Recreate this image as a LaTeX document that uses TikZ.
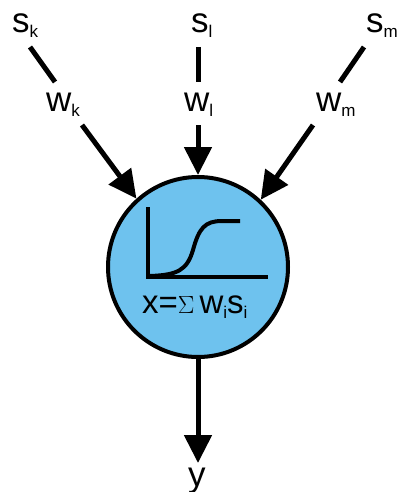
\documentclass[tikz,border=0pt]{standalone}
\usepackage{fontspec}
\setmainfont{Liberation Sans}
\usetikzlibrary{arrows.meta}
\definecolor{cellblue}{RGB}{110,194,238}
\newcommand{\bigtxt}{\fontsize{35}{35}\selectfont}
\newcommand{\subtxt}{\fontsize{17}{17}\selectfont}
\newcommand{\lab}[2]{{\bigtxt #1}\raisebox{-5pt}{\subtxt #2}}
\tikzset{
  lbl/.style={inner sep=0pt, anchor=base west, font=\bigtxt},
  wire/.style={line width=5pt},
  feed/.style={line width=5pt, -{Triangle[width=27pt,length=28pt]}},
  cell/.style={circle, draw=black, line width=4pt, fill=cellblue, minimum size=180pt, inner sep=0pt},
  axis/.style={line width=4pt},
}
\begin{document}
\begin{tikzpicture}[x=1pt,y=-1pt]
\useasboundingbox (0,0) rectangle (397,492);
% neuron
\node[cell] (neuron) at (198,267) {};
% labels
\node[lbl] (sk) at (12,33) {\lab{s}{k}};
\node[lbl] (sl) at (191,33) {\lab{s}{l}};
\node[lbl] (sm) at (366,33) {\lab{s}{m}};
\node[lbl] (wk) at (46,112) {\lab{w}{k}};
\node[lbl] (wl) at (184,112) {\lab{w}{l}};
\node[lbl] (wm) at (316,112) {\lab{w}{m}};
\node[lbl] (y) at (188,486) {y};
\node[inner sep=0pt, anchor=base west, font=\fontsize{33}{33}\selectfont] (formula) at (142,313)
  {x=\raisebox{0pt}{\fontsize{30}{30}\selectfont$\Sigma$}\hspace{5pt}w\raisebox{-5pt}{\subtxt i}s\raisebox{-5pt}{\subtxt i}};
% coordinates of connector ends
\coordinate (k1) at (30,47);  \coordinate (k2) at (55,82);  \coordinate (k3) at (82,125);
\coordinate (l1) at (198,47); \coordinate (l2) at (198,82); \coordinate (l3) at (198,125);
\coordinate (m1) at (364,47); \coordinate (m2) at (340,82); \coordinate (m3) at (313,125);
\coordinate (out) at (198,463);
% connectors
\draw[wire] (k1) -- (k2);
\draw[wire] (l1) -- (l2);
\draw[wire] (m1) -- (m2);
\draw[feed] (k3) -- (neuron.132);
\draw[feed] (l3) -- (neuron.north);
\draw[feed] (m3) -- (neuron.47);
\draw[feed] (neuron.south) -- (out);
% activation plot
\draw[axis] (148,207) -- (148,277) -- (268,277);
\draw[axis] (150,276) .. controls (178,275) and (187,270) .. (193,250)
  .. controls (199,228) and (205,221) .. (222,221) -- (240,221);
\end{tikzpicture}
\end{document}
